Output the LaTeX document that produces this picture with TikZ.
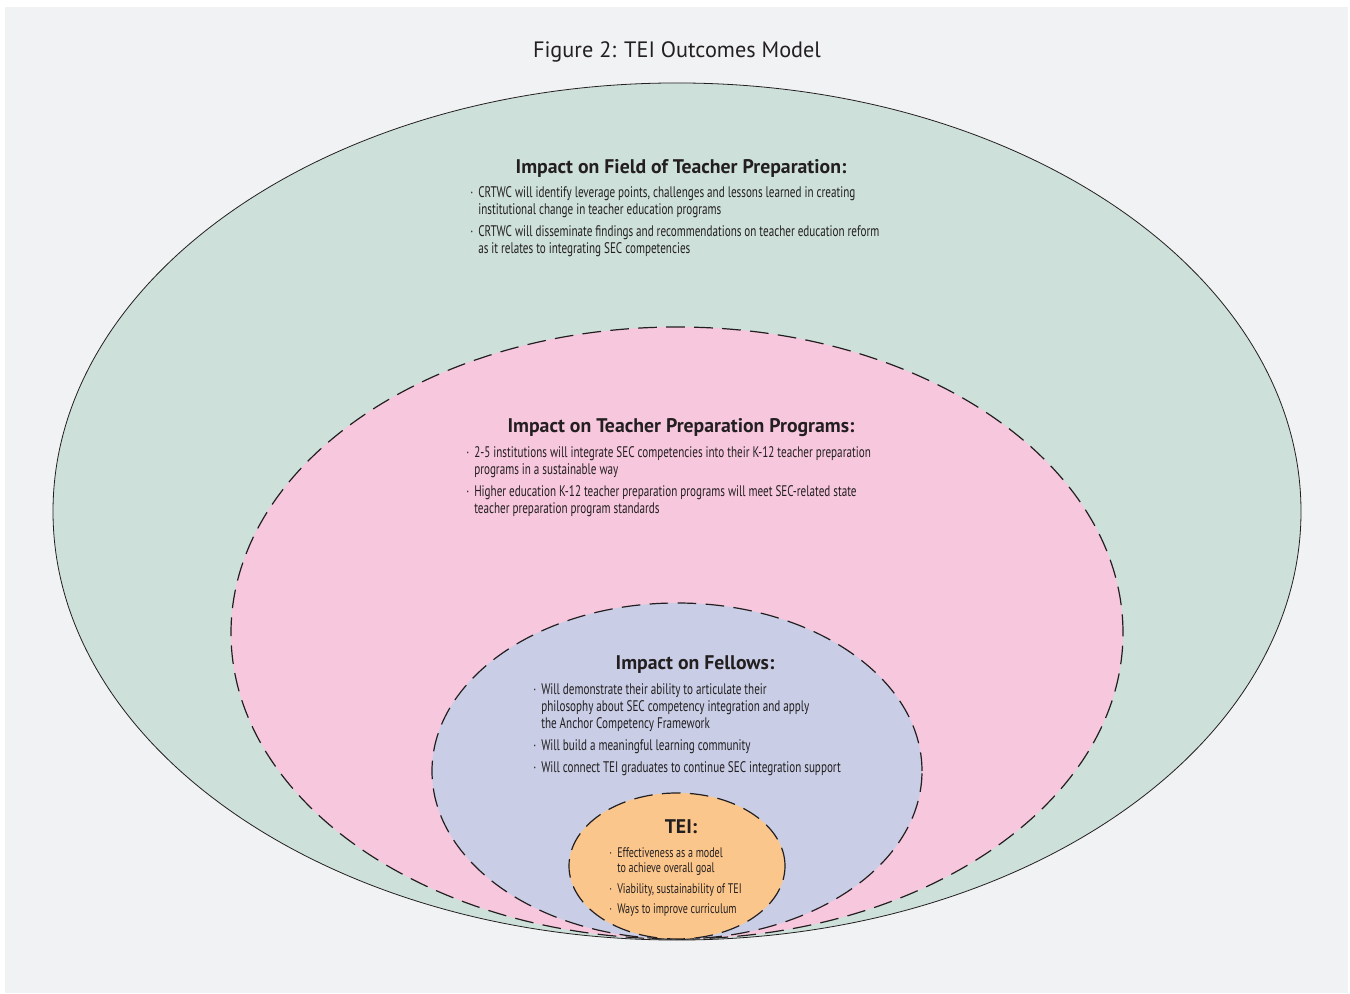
\documentclass[tikz,border=0pt]{standalone}
\usepackage{fontspec}
\setmainfont{PT Sans}
\newfontfamily\narrowfont[FakeStretch=0.725]{PT Sans}
\usepackage{xcolor}
\usetikzlibrary{positioning}

\definecolor{pageGrey}{HTML}{F1F2F4}
\definecolor{fieldGreen}{HTML}{CDE0DA}
\definecolor{progPink}{HTML}{F7C7DD}
\definecolor{fellowBlue}{HTML}{C9CEE6}
\definecolor{teiOrange}{HTML}{FBC68B}
\definecolor{inkDark}{HTML}{231F20}

\newcommand{\dotmark}{\makebox[6pt][l]{\textperiodcentered}}
\newcommand{\nodot}{\hspace*{6pt}}

\begin{document}
\begin{tikzpicture}[x = 0.75pt, y = -0.75pt,
		ring/.style = {draw=inkDark, line width=0.9pt, dash pattern=on 14pt off 7pt},
		heading/.style = {font=\fontsize{14.8}{17}\selectfont\bfseries, text=inkDark, inner sep=0pt},
		bullets/.style = {font=\narrowfont\fontsize{11.5}{12.75}\selectfont, text=inkDark,
			align=left, anchor=north west, inner sep=0pt}]
	\fill[white] (0,0) rectangle (1350,994);
	\fill[pageGrey] (5,7) rectangle (1348,993);
	%
	\node[font=\fontsize{16.7}{19}\selectfont, text=inkDark, inner sep=0pt] (title) at (677,52) {Figure 2: TEI Outcomes Model};
	
	\draw[fill=fieldGreen, draw=inkDark, line width=0.6pt] (677,511.5) ellipse [x radius=468pt, y radius=321.4pt];
	\draw[ring, fill=progPink] (677,633) ellipse [x radius=334.5pt, y radius=229.5pt];
	\draw[ring, fill=fellowBlue] (677,771) ellipse [x radius=183.75pt, y radius=126pt];
	\draw[ring, fill=teiOrange] (677,866) ellipse [x radius=81pt, y radius=54.75pt];
	
	% field of teacher preparation
	\node[heading] (fieldHead) at (681,168) {Impact on Field of Teacher Preparation:};
	\node[bullets] (fieldList) at (470,186) {%
		\dotmark CRTWC will identify leverage points, challenges and lessons learned in creating\\
		\nodot institutional change in teacher education programs\\[3.75pt]
		\dotmark CRTWC will disseminate findings and recommendations on teacher education reform\\
		\nodot as it relates to integrating SEC competencies};
	
	% teacher preparation programs
	\node[heading] (progHead) at (681,428) {Impact on Teacher Preparation Programs:};
	\node[bullets] (progList) at (466,446) {%
		\dotmark 2-5 institutions will integrate SEC competencies into their K-12 teacher preparation\\
		\nodot programs in a sustainable way\\[3.75pt]
		\dotmark Higher education K-12 teacher preparation programs will meet SEC-related state\\
		\nodot teacher preparation program standards};
	
	% fellows
	\node[heading] (fellowHead) at (695,665) {Impact on Fellows:};
	\node[bullets] (fellowList) at (533,683) {%
		\dotmark Will demonstrate their ability to articulate their\\
		\nodot philosophy about SEC competency integration and apply\\
		\nodot the Anchor Competency Framework\\[3.75pt]
		\dotmark Will build a meaningful learning community\\[3.75pt]
		\dotmark Will connect TEI graduates to continue SEC integration support};
	
	% TEI
	\node[heading] (teiHead) at (681,827) {TEI:};
	\node[bullets, font=\narrowfont\fontsize{10.4}{11.7}\selectfont] (teiList) at (609,847) {%
		\dotmark Effectiveness as a model\\
		\nodot to achieve overall goal\\[3.7pt]
		\dotmark Viability, sustainability of TEI\\[3.7pt]
		\dotmark Ways to improve curriculum};
\end{tikzpicture}
\end{document}
